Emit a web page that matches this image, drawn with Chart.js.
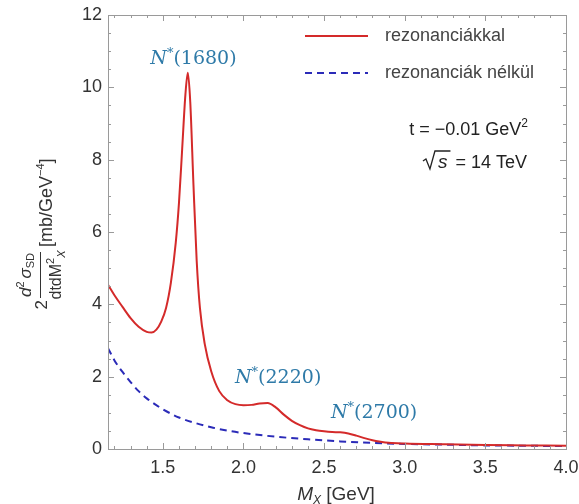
<!DOCTYPE html>
<html>
<head>
<meta charset="utf-8">
<script src="https://cdn.jsdelivr.net/npm/chart.js@4.4.1/dist/chart.umd.min.js"></script>
<style>
html,body{margin:0;padding:0;background:#fff;}
#wrap{width:579px;height:504px;position:relative;}
</style>
</head>
<body>
<div id="wrap"><canvas id="c"></canvas></div>
<script>
// ---- data ----
const mxWith = [1.16,1.20,1.25,1.30,1.35,1.40,1.43,1.46,1.49,1.52,1.55,1.58,1.60,1.62,1.64,1.655,1.67,1.69,1.71,1.73,1.76,1.80,1.85,1.90,1.95,2.00,2.05,2.10,2.15,2.20,2.25,2.30,2.35,2.40,2.45,2.50,2.55,2.60,2.65,2.70,2.75,2.80,2.85,2.90,3.00,3.25,3.50,3.75,4.00];
const withResonances = [4.54,4.25,3.93,3.62,3.38,3.24,3.22,3.30,3.52,3.90,4.60,5.70,6.80,8.30,9.80,10.40,9.60,7.30,5.20,3.90,2.90,2.15,1.60,1.35,1.24,1.21,1.22,1.26,1.27,1.15,0.95,0.78,0.66,0.57,0.52,0.49,0.47,0.46,0.43,0.37,0.30,0.24,0.20,0.17,0.15,0.13,0.11,0.10,0.09];
const mxWithout = [1.16,1.20,1.25,1.30,1.35,1.40,1.45,1.50,1.60,1.70,1.80,1.90,2.00,2.20,2.40,2.60,2.80,3.00,3.25,3.50,3.75,4.00];
const withoutResonances = [2.79,2.45,2.13,1.85,1.60,1.40,1.24,1.10,0.87,0.72,0.60,0.51,0.44,0.34,0.27,0.21,0.17,0.14,0.12,0.10,0.09,0.08];
const xTickValues = [1.5,2.0,2.5,3.0,3.5,4.0];
const yTickValues = [0,2,4,6,8,10,12];
const seriesNames = ['rezonanciákkal','rezonanciák nélkül'];
const resonanceLabels = ['(1680)','(2220)','(2700)'];
const resonanceX = [1.69,2.215,2.81];
const resonanceY = [10.83,2.02,1.05];

const RED = '#d42a2a';
const BLUE = '#2b2bb8';
const ANN = '#2e7aa8';
const TXT = '#333333';
const SANS = '"Liberation Sans", Arial, sans-serif';
const SERIF = '"DejaVu Serif", "Liberation Serif", serif';

function drawRuns(ctx, runs, x, y, align){
  let w = 0;
  runs.forEach(r => { ctx.font = r.font; r.w = ctx.measureText(r.text).width; w += r.w + (r.gap||0); });
  let cx = align==='center' ? x - w/2 : (align==='right' ? x - w : x);
  runs.forEach(r => { ctx.font = r.font; ctx.fillText(r.text, cx, y + (r.dy||0)); cx += r.w + (r.gap||0); });
  return w;
}

const decor = {
  id:'decor',
  afterDraw(chart){
    const ctx = chart.ctx, a = chart.chartArea;
    const xs = chart.scales.x, ys = chart.scales.y;
    ctx.save();
    // frame
    ctx.strokeStyle = '#9a9a9a'; ctx.lineWidth = 1;
    ctx.strokeRect(Math.round(a.left)+0.5, Math.round(a.top)+0.5, Math.round(a.right-a.left), Math.round(a.bottom-a.top));
    // ticks on all four sides
    ctx.beginPath();
    for (let i = 12; i <= 40; i++) {
      const v = i/10; const px = Math.round(xs.getPixelForValue(v))+0.5;
      const L = (i % 5 === 0) ? 6 : 3;
      ctx.moveTo(px, a.bottom); ctx.lineTo(px, a.bottom - L);
      ctx.moveTo(px, a.top); ctx.lineTo(px, a.top + L);
    }
    for (let i = 0; i <= 24; i++) {
      const v = i/2; const py = Math.round(ys.getPixelForValue(v))+0.5;
      const L = (i % 4 === 0) ? 6 : 3;
      ctx.moveTo(a.left, py); ctx.lineTo(a.left + L, py);
      ctx.moveTo(a.right, py); ctx.lineTo(a.right - L, py);
    }
    ctx.stroke();

    // legend
    const d0 = chart.data.datasets[0], d1 = chart.data.datasets[1];
    ctx.lineWidth = 2;
    ctx.strokeStyle = d0.borderColor; ctx.setLineDash([]);
    ctx.beginPath(); ctx.moveTo(305, 36); ctx.lineTo(368, 36); ctx.stroke();
    ctx.strokeStyle = d1.borderColor; ctx.setLineDash(d1.borderDash);
    ctx.beginPath(); ctx.moveTo(305, 73); ctx.lineTo(368, 73); ctx.stroke();
    ctx.setLineDash([]);
    ctx.fillStyle = '#444'; ctx.textBaseline = 'middle'; ctx.textAlign = 'left';
    ctx.font = '18px ' + SANS;
    ctx.fillText(d0.label, 385, 36);
    ctx.fillText(d1.label, 385, 73);

    // parameters
    ctx.textBaseline = 'alphabetic'; ctx.fillStyle = '#222';
    const F = '18px ' + SANS;
    drawRuns(ctx, [{text:'t = \u22120.01 GeV', font:F},{text:'2', font:'12px ' + SANS, dy:-8}], 528, 135, 'right');
    // sqrt(s) = 14 TeV
    ctx.font = F;
    const rest = ' = 14 TeV';
    const wRest = ctx.measureText(rest).width;
    ctx.font = 'italic 19px ' + SANS;
    const wS = ctx.measureText('s').width;
    const xEnd = 527, base = 168;
    const xS = xEnd - wRest - wS - 3;
    ctx.fillText('s', xS, base);
    ctx.font = F; ctx.fillText(rest, xEnd - wRest, base);
    ctx.lineWidth = 1.3; ctx.strokeStyle = '#222';
    ctx.beginPath();
    ctx.moveTo(xS - 15, base - 7); ctx.lineTo(xS - 12, base - 9); ctx.lineTo(xS - 8, base + 1);
    ctx.lineTo(xS - 3, base - 17); ctx.lineTo(xS + wS + 3, base - 17);
    ctx.stroke();

    // resonance annotations
    ctx.fillStyle = ANN;
    resonanceLabels.forEach((lab, i) => {
      const px = xs.getPixelForValue(resonanceX[i]);
      const py = ys.getPixelForValue(resonanceY[i]) + 7;
      drawRuns(ctx, [
        {text:'N', font:'italic 19px ' + SERIF},
        {text:'*', font:'13px ' + SERIF, dy:-7},
        {text:lab, font:'19px ' + SERIF}
      ], px, py, 'center');
    });

    // x-axis title
    ctx.fillStyle = '#333';
    drawRuns(ctx, [
      {text:'M', font:'italic 19px ' + SANS},
      {text:'X', font:'italic 12px ' + SANS, dy:4},
      {text:' [GeV]', font:'19px ' + SANS}
    ], 336, 500, 'center');

    // y-axis title (rotated)
    ctx.save();
    ctx.translate(40, 275);
    ctx.rotate(-Math.PI/2);
    ctx.fillStyle = '#333'; ctx.strokeStyle = '#333'; ctx.lineWidth = 1;
    ctx.beginPath(); ctx.moveTo(-23, 0.5); ctx.lineTo(23, 0.5); ctx.stroke();
    drawRuns(ctx, [
      {text:'d', font:'italic 17px ' + SANS},
      {text:'2', font:'11px ' + SANS, dy:-7, gap:3},
      {text:'\u03c3', font:'italic 17px ' + SANS},
      {text:'SD', font:'11px ' + SANS, dy:3}
    ], 0, -9, 'center');
    drawRuns(ctx, [
      {text:'dtdM', font:'16px ' + SANS},
      {text:'2', font:'11px ' + SANS, dy:-7},
      {text:'X', font:'italic 11px ' + SANS, dy:4, gap:0}
    ], 0, 21, 'center');
    ctx.font = '17px ' + SANS;
    ctx.textAlign = 'right'; ctx.fillText('2', -25, 7);
    ctx.textAlign = 'left';
    drawRuns(ctx, [
      {text:'[mb/GeV', font:'18px ' + SANS},
      {text:'\u22124', font:'11px ' + SANS, dy:-8},
      {text:']', font:'18px ' + SANS}
    ], 28, 12, 'left');
    ctx.restore();

    ctx.restore();
  }
};

new Chart(document.getElementById('c'), {
  type:'line',
  data:{
    datasets:[
      {label:seriesNames[0], data:mxWith.map((x,i)=>({x, y:withResonances[i]})),
       borderColor:RED, borderWidth:2, pointRadius:0, cubicInterpolationMode:'monotone', fill:false},
      {label:seriesNames[1], data:mxWithout.map((x,i)=>({x, y:withoutResonances[i]})),
       borderColor:BLUE, borderWidth:2, borderDash:[7,5], pointRadius:0, cubicInterpolationMode:'monotone', fill:false}
    ]
  },
  options:{
    responsive:true, maintainAspectRatio:false, animation:false,
    layout:{padding:{left:60, right:13, top:15, bottom:0}},
    plugins:{legend:{display:false}, tooltip:{enabled:false}},
    scales:{
      x:{type:'linear', min:1.16, max:4.0,
         grid:{display:false, drawTicks:false}, border:{display:false},
         afterBuildTicks:s=>{ s.ticks = xTickValues.map(v=>({value:v})); },
         afterFit:s=>{ s.height = 55; s.paddingLeft = 0; s.paddingRight = 0; },
         ticks:{padding:8, color:TXT, font:{family:SANS, size:18},
                maxRotation:0, autoSkip:false, callback:v=>v.toFixed(1)}},
      y:{type:'linear', min:0, max:12,
         grid:{display:false, drawTicks:false}, border:{display:false},
         afterBuildTicks:s=>{ s.ticks = yTickValues.map(v=>({value:v})); },
         afterFit:s=>{ s.width = 48; s.paddingTop = 0; s.paddingBottom = 0; },
         ticks:{padding:6, color:TXT, font:{family:SANS, size:18},
                callback:v=>String(v)}}
    }
  },
  plugins:[decor]
});
</script>
</body>
</html>
